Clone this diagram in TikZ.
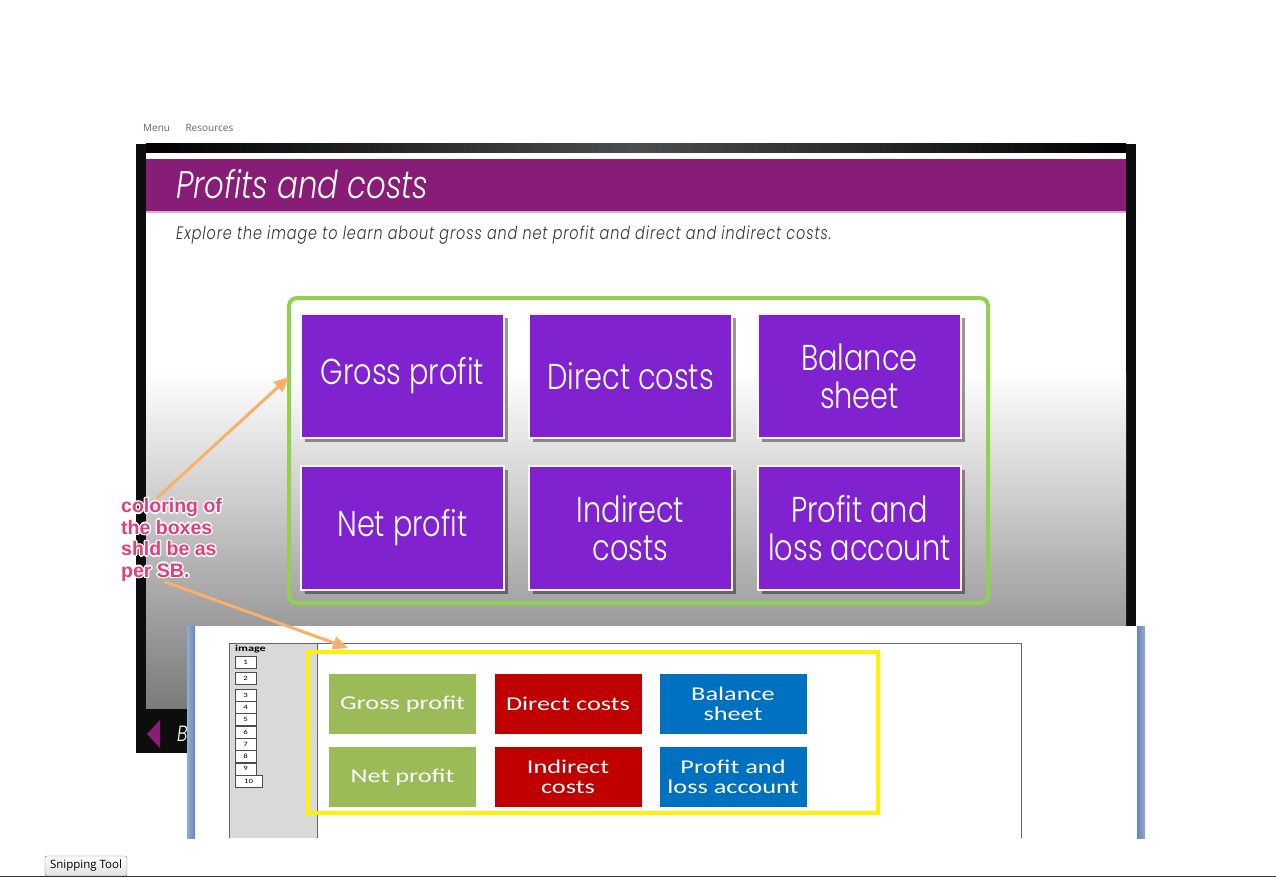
\documentclass[tikz,border=0pt]{standalone}
\usepackage{fontspec}
\setmainfont{Poppins}[UprightFont=* Light, ItalicFont=* Light Italic, FakeStretch=0.8]
\newfontfamily\sbfont{Carlito}[FakeStretch=1.35]
\newfontfamily\uifont{Open Sans}
\newfontfamily\notefont{Liberation Sans}
\usetikzlibrary{positioning,arrows.meta,shadows}
\definecolor{titlepurple}{RGB}{135,29,118}
\definecolor{boxpurple}{RGB}{128,34,208}
\definecolor{framegreen}{RGB}{146,208,80}
\definecolor{sbgreen}{RGB}{155,187,89}
\definecolor{sbred}{RGB}{192,0,0}
\definecolor{sbblue}{RGB}{0,112,192}
\definecolor{sbedge}{RGB}{104,134,186}
\definecolor{noteorange}{RGB}{250,176,104}
\definecolor{notepink}{RGB}{226,62,122}
\definecolor{panelgray}{RGB}{217,217,217}
\tikzset{
    topic/.style={rectangle, draw=white!85!pink, line width=1.5pt, fill=boxpurple, text=white, minimum width=203pt, minimum height=124pt, align=center, font=\fontsize{36}{38}\selectfont, drop shadow={shadow xshift=4pt, shadow yshift=-4pt, fill=black, opacity=0.4}},
    sbbox/.style={rectangle, minimum width=147pt, minimum height=60pt, text=white, align=center, font=\sbfont\fontsize{19.5}{20}\selectfont},
    numbox/.style={rectangle, draw=black!70, fill=white, minimum width=21pt, minimum height=12pt, inner sep=0pt, font=\sbfont\fontsize{6.5}{6.5}\selectfont},
    note/.style={anchor=west, inner sep=0pt, align=left, text=notepink, font=\notefont\bfseries\fontsize{19.5}{21.5}\selectfont},
    pointer/.style={draw=noteorange, line width=3pt, -{Triangle[length=15pt, width=13pt]}},
    uitext/.style={inner sep=0pt, text=black!60, font=\uifont\fontsize{10}{10}\selectfont}
}

\begin{document}
\begin{tikzpicture}[x=1pt, y=-1pt]
    \useasboundingbox (0,0) rectangle (1276,877);
    \fill[white] (0,0) rectangle (1276,877);

    % player menu
    \node[uitext, anchor=west] (menu) at (143,128) {Menu};
    \node[uitext, right=15pt of menu] (resources) {Resources};

    % slide frame
    \fill[black!95] (136,144) rectangle (1136,753);
    \shade[left color=black, right color=black, middle color=black!70] (146,144) rectangle (1126,153);
    \fill[white] (146,153) rectangle (1126,372);
    \shade[top color=white, bottom color=black!52] (146,372) rectangle (1126,708);
    \fill[titlepurple] (146,159) rectangle (1126,211);
    \draw[titlepurple!35, line width=1.5pt] (146,212) -- (1126,212);
    \node[anchor=base west, inner sep=0pt, text=white, font=\itshape\fontsize{38.5}{38.5}\selectfont] (title) at (176,199) {Profits and costs};
    \node[anchor=base west, inner sep=0pt, text=black!80, font=\itshape\fontsize{18}{18}\selectfont\addfontfeatures{LetterSpace=5}] (intro) at (176,240) {Explore the image to learn about gross and net profit and direct and indirect costs.};
    \fill[titlepurple] (160,720) -- (160,748) -- (147,734) -- cycle;
    \node[anchor=west, inner sep=0pt, text=white, font=\itshape\fontsize{22}{22}\selectfont] (back) at (177,734) {B};

    % topic boxes
    \draw[framegreen, line width=4pt, rounded corners=8pt] (289,298) rectangle (988,603);
    \node[topic] (gross) at (402.5,376) {Gross profit};
    \node[topic] (direct) at (630.5,376) {Direct costs};
    \node[topic] (balance) at (859.5,376) {Balance\\sheet};
    \node[topic] (net) at (402.5,528) {Net profit};
    \node[topic] (indirect) at (630.5,528) {Indirect\\costs};
    \node[topic] (pandl) at (859.5,528) {Profit and\\loss account};

    % storyboard inset
    \fill[white] (187,626) rectangle (1145,838);
    \shade[left color=sbedge!70, right color=sbedge] (187,626) rectangle (195,838);
    \shade[left color=sbedge, right color=sbedge!70] (1137,626) rectangle (1145,838);
    \fill[panelgray] (229,643) rectangle (317,838);
    \draw[black!60] (229,838) -- (229,643) -- (1021,643) -- (1021,838);
    \draw[black!60] (317,643) -- (317,838);
    \node[anchor=north west, inner sep=0pt, font=\sbfont\bfseries\fontsize{9}{9}\selectfont] (imagelabel) at (235,645) {image};
    \node[numbox] (num1) at (245.5,662.5) {1};
    \node[numbox] (num2) at (245.5,678.5) {2};
    \foreach \n in {3,...,9}
        \node[numbox] (num\n) at (245.5,{695+(\n-3)*12.3}) {\n};
    \node[numbox, minimum width=27pt] (num10) at (248.5,781) {10};

    \draw[yellow, line width=4pt] (308,652) rectangle (878,813);
    \node[sbbox, fill=sbgreen] (sbgross) at (402.5,704) {Gross profit};
    \node[sbbox, fill=sbred] (sbdirect) at (568,704) {Direct costs};
    \node[sbbox, fill=sbblue] (sbbalance) at (733,704) {Balance\\sheet};
    \node[sbbox, fill=sbgreen] (sbnet) at (402.5,777) {Net profit};
    \node[sbbox, fill=sbred] (sbindirect) at (568,777) {Indirect\\costs};
    \node[sbbox, fill=sbblue] (sbpandl) at (733,777) {Profit and\\loss account};

    % reviewer note
    \foreach \dx/\dy [count=\i] in {-1.5/0,1.5/0,0/-1.5,0/1.5,-1/-1,1/1,-1/1,1/-1}
        \node[note, text=white] (halo\i) at ({121+\dx},{540+\dy}) {coloring of\\the boxes\\shld be as\\per SB.};
    \node[note] (note) at (121,540) {coloring of\\the boxes\\shld be as\\per SB.};
    \coordinate (gridleft) at (289,377);
    \coordinate (sbtop) at (348,648);
    \draw[pointer] (note.110) -- (gridleft);
    \draw[pointer] (note.260) -- (sbtop);

    % taskbar
    \node[rounded corners=2pt, draw=black!55, top color=white, bottom color=black!12, font=\uifont\fontsize{11.5}{11.5}\selectfont, inner xsep=5pt, minimum height=20pt] (snip) at (86,866) {Snipping Tool};
    \draw[black!80, line width=1pt] (0,876.5) -- (1276,876.5);
\end{tikzpicture}
\end{document}
